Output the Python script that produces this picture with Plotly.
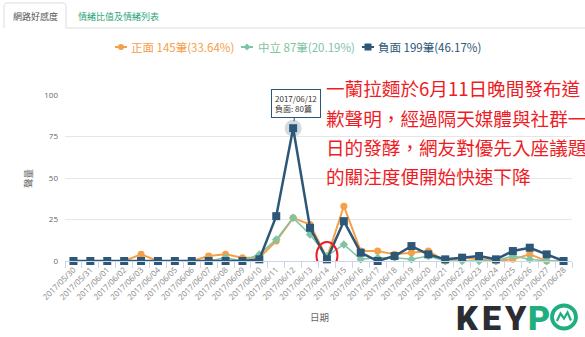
import plotly.graph_objects as go

dates = ["2017/05/30", "2017/05/31"] + ["2017/06/%02d" % d for d in range(1, 29)]
positive = [0, 0, 0, 0, 4, 0, 0, 0, 3, 4, 2, 2, 12, 26, 22, 2, 33, 6, 6, 4, 5, 6, 0, 2, 1, 0, 1, 4, 0, 0]
neutral = [0, 0, 0, 0, 0, 0, 0, 0, 0, 2, 0, 4, 13, 26, 16, 3, 10, 1, 2, 2, 1, 3, 0, 0, 0, 0, 3, 1, 0, 0]
negative = [0, 0, 0, 0, 0, 0, 0, 0, 0, 0, 0, 1, 27, 80, 20, 1, 24, 5, 0, 3, 9, 4, 1, 2, 3, 1, 6, 8, 4, 0]
series_names = ["正面", "中立", "負面"]
y_ticks = [0, 25, 50, 75, 100]
peak_idx = 13
circle_idx = 15

C_POS = "#f4a049"
C_NEU = "#7fc4a4"
C_NEG = "#2d5777"
RED = "#ee1c25"
GREEN = "#1fae7e"

W, H = 585, 337
ML, MR, MT, MB = 65, 13, 95, 76
PW, PH = W - ML - MR, H - MT - MB


def px(x):
    return (x - ML) / PW


def py(y):
    return (H - MB - y) / PH


def path(points, close=False):
    s = "M " + " L ".join("%.5f %.5f" % (px(a), py(b)) for a, b in points)
    return s + (" Z" if close else "")


def label(x, y, text, size, color, xanchor="center", family="Noto Sans CJK TC", weight=None, **kw):
    f = dict(size=size, color=color, family=family)
    if weight is not None:
        f["weight"] = weight
    return dict(xref="paper", yref="paper", x=px(x), y=py(y), xanchor=xanchor, yanchor="middle",
                text=text, showarrow=False, font=f, **kw)


fig = go.Figure()
fig.add_trace(go.Scatter(x=dates, y=positive, mode="lines+markers", name=series_names[0],
                         line=dict(color=C_POS, width=2), marker=dict(symbol="circle", size=7, color=C_POS),
                         cliponaxis=False, showlegend=False))
fig.add_trace(go.Scatter(x=dates, y=neutral, mode="lines+markers", name=series_names[1],
                         line=dict(color=C_NEU, width=1.5), marker=dict(symbol="diamond", size=6.5, color=C_NEU),
                         cliponaxis=False, showlegend=False))
fig.add_trace(go.Scatter(x=[dates[peak_idx]], y=[negative[peak_idx]], mode="markers",
                         marker=dict(symbol="circle", size=17, color="rgba(45,87,119,0.22)"),
                         hoverinfo="skip", showlegend=False, cliponaxis=False))
fig.add_trace(go.Scatter(x=dates, y=negative, mode="lines+markers", name=series_names[2],
                         line=dict(color=C_NEG, width=2.5), marker=dict(symbol="square", size=8, color=C_NEG),
                         cliponaxis=False, showlegend=False))

shapes = []
annotations = []

# tabs
shapes.append(dict(type="path", xref="paper", yref="paper",
                   path=path([(4, 28), (4, 5), (6, 3), (64, 3), (66, 5), (66, 28)]),
                   line=dict(color="#dddddd", width=1)))
shapes.append(dict(type="line", xref="paper", yref="paper", x0=px(66), x1=px(585), y0=py(28), y1=py(28),
                   line=dict(color="#dddddd", width=1)))
annotations.append(label(35, 16, "網路好感度", 9, "#555555"))
annotations.append(label(118, 16, "情緒比值及情緒列表", 9, "#2aa57a"))

# legend (manual)
totals = [sum(positive), sum(neutral), sum(negative)]
grand = sum(totals)
leg_x = [(115, 129), (241, 256), (362, 376)]
cols = [C_POS, C_NEU, C_NEG]
ly = 47
for i in range(3):
    sx, tx = leg_x[i]
    shapes.append(dict(type="line", xref="paper", yref="paper", x0=px(sx), x1=px(sx + 12), y0=py(ly), y1=py(ly),
                       line=dict(color=cols[i], width=2)))
    cx = sx + 6
    if i == 0:
        shapes.append(dict(type="circle", xref="paper", yref="paper", x0=px(cx - 3), x1=px(cx + 3),
                           y0=py(ly + 3), y1=py(ly - 3), fillcolor=cols[i], line=dict(width=0)))
    elif i == 1:
        shapes.append(dict(type="path", xref="paper", yref="paper",
                           path=path([(cx, ly - 3.5), (cx + 3.5, ly), (cx, ly + 3.5), (cx - 3.5, ly)], True),
                           fillcolor=cols[i], line=dict(width=0)))
    else:
        shapes.append(dict(type="rect", xref="paper", yref="paper", x0=px(cx - 3.5), x1=px(cx + 3.5),
                           y0=py(ly + 3.5), y1=py(ly - 3.5), fillcolor=cols[i], line=dict(width=0)))
    txt = "%s %d筆(%.2f%%)" % (series_names[i], totals[i], totals[i] / grand * 100)
    annotations.append(label(tx, ly, txt, 11.5, cols[i], xanchor="left"))

# tooltip
annotations.append(dict(x=dates[peak_idx], y=negative[peak_idx], xref="x", yref="y",
                        text="2017/06/12<br>%s: %d篇" % (series_names[2], negative[peak_idx]),
                        showarrow=True, ax=3, ay=-25, arrowhead=0, arrowwidth=1, arrowcolor=C_NEG, standoff=7,
                        bgcolor="rgba(255,255,255,0.95)", bordercolor=C_NEG, borderwidth=1, borderpad=3,
                        align="left", font=dict(size=8, color="#333333", family="Noto Sans CJK TC")))

# red ellipse
shapes.append(dict(type="circle", xref="x", yref="y", x0=circle_idx - 0.62, x1=circle_idx + 0.62,
                   y0=-4.8, y1=11.4, line=dict(color=RED, width=2)))

# red commentary
lines = ["一蘭拉麵於6月11日晚間發布道", "歉聲明，經過隔天媒體與社群一", "日的發酵，網友對優先入座議題", "的關注度便開始快速下降"]
for k, t in enumerate(lines):
    annotations.append(label(324, 88 + 29 * k, t, 18.6, RED, xanchor="left"))

# axis titles
annotations.append(label(319, 317, "日期", 9.5, "#666666"))
annotations.append(label(28, 178, "聲量", 9.5, "#666666", textangle=-90))

# logo
for ch, cxp, col in [("K", 467.5, "#2b2d33"), ("E", 491, "#2b2d33"), ("Y", 515.5, "#2b2d33"), ("P", 538.5, GREEN)]:
    annotations.append(label(cxp, 317.5, ch, 34, col, family="Roboto", weight=900))
shapes.append(dict(type="circle", xref="paper", yref="paper", x0=px(552), x1=px(576),
                   y0=py(328.5), y1=py(305.5), line=dict(color=GREEN, width=3.8)))
shapes.append(dict(type="path", xref="paper", yref="paper",
                   path=path([(557, 321), (560.5, 313.5), (564, 318.5), (567.5, 312.5), (571, 320.5)]),
                   line=dict(color=GREEN, width=2.2)))

fig.update_layout(
    width=W, height=H, margin=dict(l=ML, r=MR, t=MT, b=MB),
    paper_bgcolor="white", plot_bgcolor="white",
    shapes=shapes, annotations=annotations, showlegend=False,
    font=dict(family="Noto Sans CJK TC"),
)
fig.update_xaxes(type="category", range=[-0.5, len(dates) - 0.5], tickangle=-45, tickson="boundaries",
                 ticks="outside", ticklen=6, tickcolor="#ccd6eb", showline=True, linecolor="#ccd6eb",
                 showgrid=False, tickfont=dict(size=8, color="#888888", family="Open Sans"))
fig.update_yaxes(range=[0, 100], tickvals=y_ticks, showgrid=True, gridcolor="#e6e6e6", zeroline=False,
                 showline=False, ticks="", ticklabelstandoff=6,
                 tickfont=dict(size=8, color="#666666", family="Open Sans"))

fig.write_html("out.html")
